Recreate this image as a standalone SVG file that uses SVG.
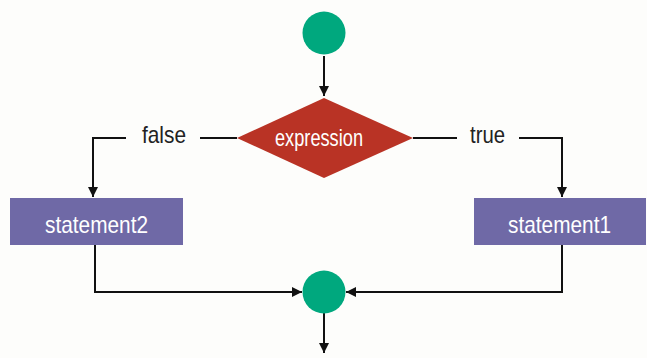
<svg xmlns="http://www.w3.org/2000/svg" width="647" height="358" viewBox="0 0 647 358">
<defs>
<marker id="ah" viewBox="0 0 10 10" refX="10" refY="5" markerWidth="10" markerHeight="10" markerUnits="userSpaceOnUse" orient="auto">
<path d="M0,0 L10,5 L0,10 z" fill="#111"/>
</marker>
<style>
.ln{fill:none;stroke:#111;stroke-width:2}
.lbl{font-family:"Liberation Sans",Arial,sans-serif;font-size:24px;fill:#222}
.wt{font-family:"Liberation Sans",Arial,sans-serif;font-size:24px;fill:#fff}
.dot{fill:#00A87E}
.box{fill:#6F69A6}
</style>
</defs>
<rect width="647" height="358" fill="#FDFDFB"/>
<g id="connectors">
<path class="ln" d="M324,56 V96" marker-end="url(#ah)"/>
<path class="ln" d="M237,138 H200"/>
<path class="ln" d="M126,138 H93 V197" marker-end="url(#ah)"/>
<path class="ln" d="M413,138 H457"/>
<path class="ln" d="M519,138 H562 V197" marker-end="url(#ah)"/>
<path class="ln" d="M95,245 V292 H302" marker-end="url(#ah)"/>
<path class="ln" d="M562,245 V292 H346" marker-end="url(#ah)"/>
<path class="ln" d="M324,313 V353" marker-end="url(#ah)"/>
<text class="lbl" x="142" y="143" textLength="44" lengthAdjust="spacingAndGlyphs">false</text>
<text class="lbl" x="470" y="143" textLength="35" lengthAdjust="spacingAndGlyphs">true</text>
</g>
<g id="start"><circle class="dot" cx="324" cy="33" r="21.5"/></g>
<g id="expression">
<polygon points="324,98 413,138 324,178 237,138" fill="#B93325"/>
<text class="wt" x="275" y="146" textLength="88" lengthAdjust="spacingAndGlyphs">expression</text>
</g>
<g id="statement2">
<rect class="box" x="10" y="198" width="173" height="47"/>
<text class="wt" x="45" y="233" textLength="103" lengthAdjust="spacingAndGlyphs">statement2</text>
</g>
<g id="statement1">
<rect class="box" x="474" y="198" width="172" height="47"/>
<text class="wt" x="508" y="233" textLength="103" lengthAdjust="spacingAndGlyphs">statement1</text>
</g>
<g id="end"><circle class="dot" cx="324" cy="292" r="21.5"/></g>
</svg>
